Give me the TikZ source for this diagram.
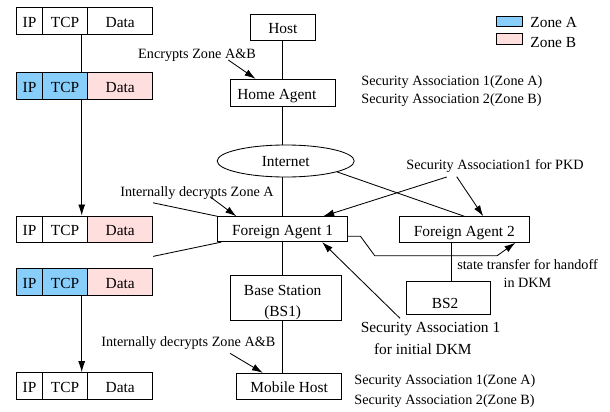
\documentclass[tikz,border=0pt]{standalone}
\usepackage{fontspec}
\setmainfont{Liberation Serif}
\usetikzlibrary{arrows.meta,calc,shapes.geometric}
\definecolor{zoneA}{RGB}{135,206,250}
\definecolor{zoneB}{RGB}{255,222,222}
\newcommand{\nodefont}{\fontsize{15.4}{20.7}\selectfont}
\newcommand{\labfont}{\fontsize{14.2}{18.3}\selectfont}
\newcommand{\pkt}[5]{%
  \node[cell, minimum width=25.6pt, fill=#3] (#1i) at (29.5,#2) {IP};
  \node[cell, minimum width=45.4pt, fill=#4] (#1t) at (65,#2) {TCP};
  \node[cell, minimum width=65pt, fill=#5] (#1d) at (120.2,#2) {Data};}
\begin{document}
\begin{tikzpicture}[x=1pt,y=-1pt,line width=0.85pt,
  box/.style={draw, inner sep=0pt, font=\nodefont, text height=13.2pt, text depth=0pt},
  cell/.style={draw, inner sep=0pt, minimum height=26.7pt, font=\nodefont, text height=13.2pt, text depth=0pt},
  lab/.style={inner sep=0pt, font=\labfont},
  arr/.style={-{Latex[length=11pt,width=7pt]}},
]
\useasboundingbox (0,0) rectangle (610,412);

% packets
\pkt{p1}{20.7}{white}{white}{white}
\pkt{p2}{86}{zoneA}{zoneA}{zoneB}
\pkt{p3}{229.3}{white}{white}{zoneB}
\pkt{p4}{281.7}{zoneA}{zoneA}{zoneB}
\pkt{p5}{386}{white}{white}{white}
\draw ([xshift=16.7pt]p1t.south) -- ([xshift=16.7pt]p2t.north);
\draw[arr] ([xshift=16.7pt]p2t.south) -- ([xshift=16.7pt]p3t.north);
\draw[arr] ([xshift=16.7pt]p4t.south) -- ([xshift=16.7pt]p5t.north);

% main nodes
\node[box, minimum width=65.7pt, minimum height=26pt] (Host) at (282.85,27) {Host};
\node[box, minimum width=104.3pt, minimum height=26.7pt] (HA) at (282.85,92.65) {\kern-12pt Home Agent};
\node[ellipse, draw, inner sep=0pt, minimum width=137pt, minimum height=32pt, font=\nodefont, text height=10.2pt, text depth=0pt] (Int) at (285.7,161) {Internet};
\node[box, minimum width=129.6pt, minimum height=25pt] (FA1) at (282.5,229.2) {Foreign Agent 1};
\node[box, minimum width=130pt, minimum height=25.6pt] (FA2) at (464.3,229.5) {Foreign Agent 2};
\node[box, minimum width=84.7pt, minimum height=32.6pt, text height=20.8pt] (BS2) at (448.35,298) {\kern-6.6pt BS2};
\node[box, minimum width=111pt, minimum height=45.7pt, text height=20pt, text depth=5.1pt] (BS1) at (286.2,297.85) {\kern-7pt\begin{tabular}{@{}c@{}}Base Station\\(BS1)\end{tabular}};
\node[box, minimum width=105pt, minimum height=25.7pt] (MH) at (289.2,386.15) {Mobile Host};

% connections
\draw (Host) -- (HA);
\draw (HA.south) -- (HA.south |- Int.north);
\draw (FA1.north |- Int.south) -- (FA1.north);
\draw (Int.-12) -- (FA2.north);
\draw (FA1.south) -- (FA1.south |- BS1.north);
\draw (FA1.south |- BS1.south) -- (FA1.south |- MH.north);
\coordinate (fb) at ([xshift=-12.6pt]FA2.south);
\draw (fb) -- (fb |- BS2.north);
\draw ([yshift=12.7pt]p3d.north east) -- (FA1.north west);
\draw ([yshift=-13.3pt]p3d.south east) -- ([xshift=4pt]FA1.south west);

% labels and arrows
\node[lab] (enc) at (197,55) {Encrypts Zone A\&B};
\draw[arr] ($(enc.center)+(31.3,5)$) -- ([xshift=25.3pt]HA.north west);
\node[lab] (ida) at (197,192.7) {Internally decrypts Zone A};
\draw[arr] ($(ida.center)+(13,4)$) -- ([xshift=19pt]FA1.north west);
\node[lab] (pkd) at (495,166) {Security Association1 for PKD};
\draw[arr] ($(pkd.center)+(-38.3,10.7)$) -- ([xshift=19pt]FA2.north);
\draw[arr] ($(pkd.center)+(-48.3,11)$) -- ([xshift=-24.6pt]FA1.north east);
\node[lab] (idab) at (188.3,342.7) {Internally decrypts Zone A\&B};
\draw[arr] ($(idab.center)+(41.7,10.6)$) -- ([xshift=26.6pt]MH.north west);
\node[lab, font=\nodefont] (dkm1) at (430.5,329.3) {Security Association 1};
\node[lab, font=\nodefont] (dkm2) at (422.8,349.3) {for initial DKM};
\draw[arr] ($(dkm1.center)+(-30.5,-11)$) -- ([xshift=-25.6pt]FA1.south east);
\node[lab, align=center] (st) at (527.5,273.8) {state transfer for handoff\\in DKM};
\draw[arr] ([yshift=-7pt]FA1.east) -- ++(12.7,0) -- ++(14.3,19.5) -- ++(122.4,0) -- ([xshift=-14.3pt]FA2.south east);

% security association notes
\node[lab, anchor=west] (sa1) at (361,82) {Security Association 1(Zone A)};
\node[lab, anchor=west] (sa2) at (361,100.5) {Security Association 2(Zone B)};
\node[lab, anchor=west] (sa3) at (354,381) {Security Association 1(Zone A)};
\node[lab, anchor=west] (sa4) at (354,400.7) {Security Association 2(Zone B)};

% legend
\node[draw, fill=zoneA, minimum width=26pt, minimum height=10pt, inner sep=0pt] (la) at (509.7,21) {};
\node[draw, fill=zoneB, minimum width=26pt, minimum height=10.7pt, inner sep=0pt] (lb) at (509.7,38.7) {};
\node[inner sep=0pt, font=\nodefont, anchor=west] (lta) at (530,22.8) {Zone A};
\node[inner sep=0pt, font=\nodefont, anchor=west] (ltb) at (530,42.2) {Zone B};
\end{tikzpicture}
\end{document}
